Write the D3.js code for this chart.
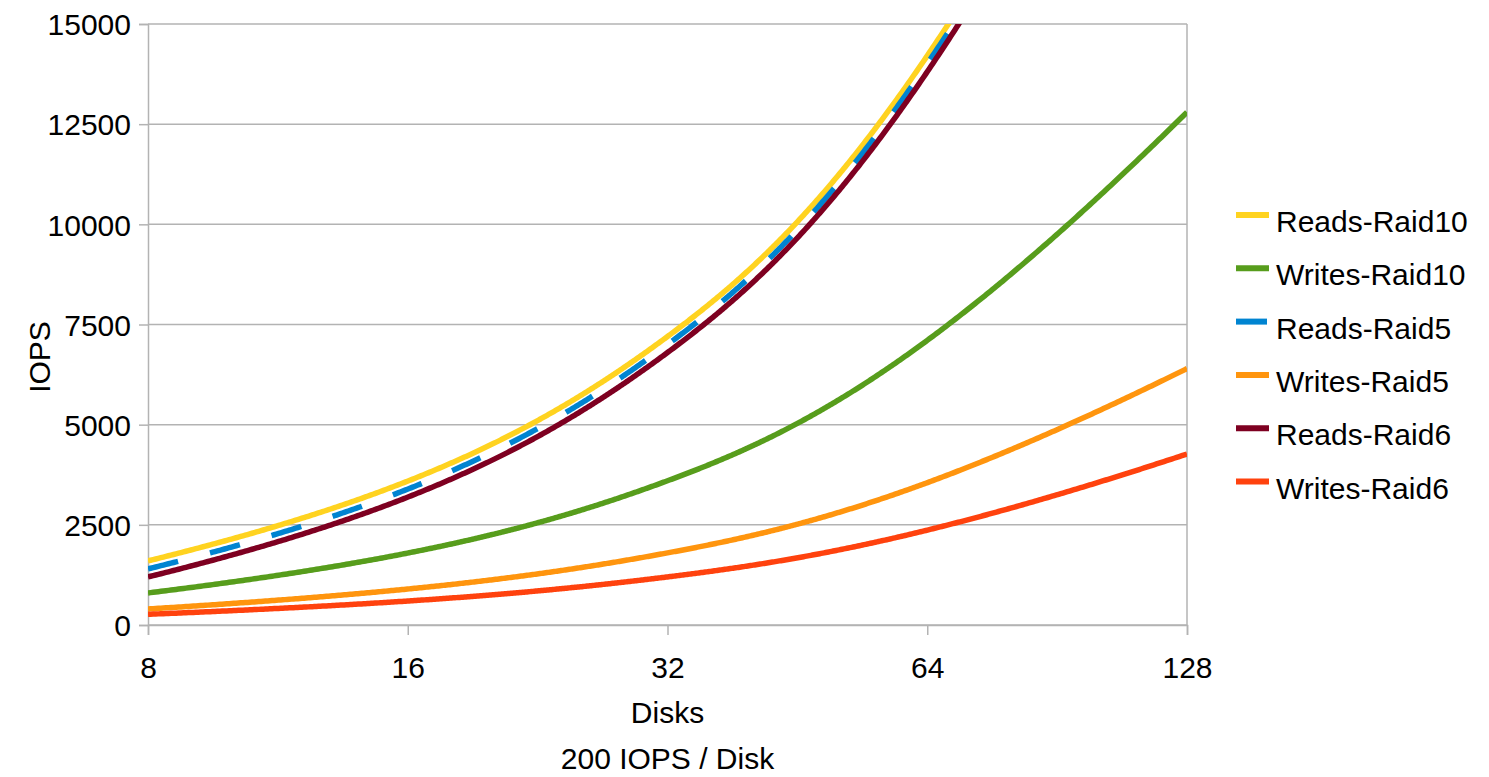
<!DOCTYPE html>
<html>
<head>
<meta charset="utf-8">
<script src="https://cdn.jsdelivr.net/npm/d3@7"></script>
<style>
  html, body { margin: 0; padding: 0; background: #fff; }
  svg { display: block; font-family: "Liberation Sans", Arial, sans-serif; }
</style>
</head>
<body>
<svg id="chart" width="1489" height="777"></svg>
<script>
// Disk counts on the x axis (log2 spaced)
const disks = [8, 16, 32, 64, 128];

// IOPS per series at each disk count (200 IOPS per disk)
const readsRaid10  = [1600, 3200, 6400, 12800, 25600];
const writesRaid10 = [800, 1600, 3200, 6400, 12800];
const readsRaid5   = [1400, 3000, 6200, 12600, 25400];
const writesRaid5  = [400, 800, 1600, 3200, 6400];
const readsRaid6   = [1200, 2800, 6000, 12400, 25200];
const writesRaid6  = [267, 533, 1067, 2133, 4267];

const seriesNames = ["Reads-Raid10", "Writes-Raid10", "Reads-Raid5", "Writes-Raid5", "Reads-Raid6", "Writes-Raid6"];
const seriesValues = [readsRaid10, writesRaid10, readsRaid5, writesRaid5, readsRaid6, writesRaid6];
const seriesColors = ["#ffd320", "#579d1c", "#0084d1", "#ff950e", "#7e0021", "#ff420e"];
const seriesDash   = [null, null, "31 33", null, null, null];

const yTicks = [0, 2500, 5000, 7500, 10000, 12500, 15000];

// Clamped uniform cubic B-spline (control points = data points), as a d3 curve
function ClampedBSpline(context) { this._context = context; }
ClampedBSpline.prototype = {
  areaStart() { this._line = 0; },
  areaEnd() { this._line = NaN; },
  lineStart() { this._pts = []; },
  point(x, y) { this._pts.push([+x, +y]); },
  lineEnd() {
    const c = this._pts, n = c.length, ctx = this._context;
    if (!n) return;
    if (n === 1) { ctx.moveTo(c[0][0], c[0][1]); return; }
    const p = Math.min(3, n - 1), spans = n - p;
    const t = [];
    for (let i = 0; i <= p; i++) t.push(0);
    for (let i = 1; i < spans; i++) t.push(i / spans);
    for (let i = 0; i <= p; i++) t.push(1);
    const evalAt = (u) => {
      let k = p;
      while (k < n - 1 && u >= t[k + 1]) k++;
      const d = [];
      for (let j = 0; j <= p; j++) d.push(c[j + k - p].slice());
      for (let r = 1; r <= p; r++) {
        for (let j = p; j >= r; j--) {
          const den = t[j + 1 + k - r] - t[j + k - p];
          const a = den === 0 ? 0 : (u - t[j + k - p]) / den;
          d[j][0] = (1 - a) * d[j - 1][0] + a * d[j][0];
          d[j][1] = (1 - a) * d[j - 1][1] + a * d[j][1];
        }
      }
      return d[p];
    };
    const samples = 600;
    for (let s = 0; s <= samples; s++) {
      const q = evalAt(s / samples);
      if (s === 0) ctx.moveTo(q[0], q[1]); else ctx.lineTo(q[0], q[1]);
    }
  }
};
const curveClampedBSpline = (context) => new ClampedBSpline(context);

const svg = d3.select("#chart");
const plot = { left: 148, right: 1187, top: 24, bottom: 625 };

const x = d3.scaleLog().base(2).domain([8, 128]).range([plot.left, plot.right]);
const y = d3.scaleLinear().domain([0, 15000]).range([plot.bottom, plot.top]);

const gridColor = "#b3b3b3";

// Horizontal grid lines
svg.append("g")
  .selectAll("line").data(yTicks).join("line")
  .attr("x1", plot.left).attr("x2", plot.right)
  .attr("y1", d => y(d)).attr("y2", d => y(d))
  .attr("stroke", gridColor).attr("stroke-width", 1.5);

// Right frame edge
svg.append("line")
  .attr("x1", plot.right).attr("x2", plot.right)
  .attr("y1", plot.top).attr("y2", plot.bottom)
  .attr("stroke", gridColor).attr("stroke-width", 1.5);

// Y axis
const yAxis = svg.append("g")
  .attr("transform", `translate(${plot.left},0)`)
  .call(d3.axisLeft(y).tickValues(yTicks).tickSize(9).tickPadding(8).tickFormat(d3.format("d")));
yAxis.select(".domain").attr("stroke", gridColor).attr("stroke-width", 1.5);
yAxis.selectAll(".tick line").attr("stroke", gridColor).attr("stroke-width", 1.5);
yAxis.selectAll(".tick text")
  .attr("font-size", 30).attr("fill", "#000")
  .attr("font-family", "Liberation Sans, Arial, sans-serif")
  .attr("dy", "0.36em");

// X axis
const xAxis = svg.append("g")
  .attr("transform", `translate(0,${plot.bottom})`)
  .call(d3.axisBottom(x).tickValues(disks).tickSize(10).tickPadding(22).tickFormat(d3.format("d")));
xAxis.select(".domain").attr("stroke", gridColor).attr("stroke-width", 1.5);
xAxis.selectAll(".tick line").attr("stroke", gridColor).attr("stroke-width", 1.5);
xAxis.selectAll(".tick text")
  .attr("font-size", 30).attr("fill", "#000")
  .attr("font-family", "Liberation Sans, Arial, sans-serif");

// Axis titles
svg.append("text")
  .attr("x", (plot.left + plot.right) / 2).attr("y", 723)
  .attr("text-anchor", "middle").attr("font-size", 30).attr("fill", "#000")
  .text("Disks");
svg.append("text")
  .attr("x", (plot.left + plot.right) / 2).attr("y", 769)
  .attr("text-anchor", "middle").attr("font-size", 30).attr("fill", "#000")
  .text("200 IOPS / Disk");
svg.append("text")
  .attr("transform", "translate(50,357) rotate(-90)")
  .attr("text-anchor", "middle").attr("font-size", 30).attr("fill", "#000")
  .text("IOPS");

// Clip the series to the plotting area
svg.append("clipPath").attr("id", "plotClip")
  .append("rect")
  .attr("x", plot.left).attr("y", plot.top)
  .attr("width", plot.right - plot.left).attr("height", plot.bottom - plot.top);

const line = d3.line()
  .x((d, i) => x(disks[i]))
  .y(d => y(d))
  .curve(curveClampedBSpline);

svg.append("g").attr("clip-path", "url(#plotClip)")
  .selectAll("path").data(seriesValues).join("path")
  .attr("d", d => line(d))
  .attr("fill", "none")
  .attr("stroke", (d, i) => seriesColors[i])
  .attr("stroke-width", 5.5)
  .attr("stroke-dasharray", (d, i) => seriesDash[i])
  .attr("stroke-linejoin", "round");

// Legend
const legend = svg.append("g").attr("transform", "translate(1236,215)");
const rows = legend.selectAll("g").data(seriesNames).join("g")
  .attr("transform", (d, i) => `translate(0,${i * 53.3})`);
rows.append("line")
  .attr("x1", 0).attr("x2", 33).attr("y1", 0).attr("y2", 0)
  .attr("stroke", (d, i) => seriesColors[i])
  .attr("stroke-width", 6)
  .attr("stroke-dasharray", (d, i) => seriesDash[i]);
rows.append("text")
  .attr("x", 40).attr("y", 17)
  .attr("font-size", 30).attr("fill", "#000")
  .text(d => d);
</script>
</body>
</html>
